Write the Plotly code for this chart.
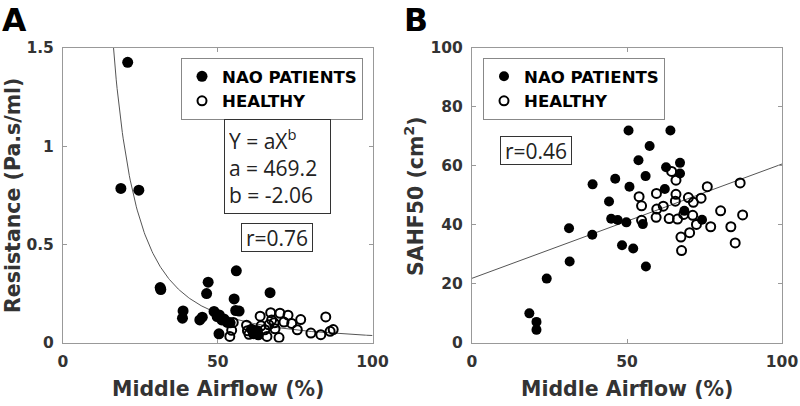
import numpy as np
import plotly.graph_objects as go

# ---------------- data ----------------
# Panel A: Resistance (Pa.s/ml) vs Middle Airflow (%)
nao_a_x = [18.7, 20.9, 24.5, 31.4, 31.6, 38.8, 38.6, 44.2, 45.0, 46.9, 46.4, 48.8, 49.8,
           51.3, 53.1, 54.0, 55.3, 56.0, 55.8, 56.9, 50.4, 66.9, 60.9, 62.0, 63.1, 52.0,
           61.5, 62.8, 50.5]
nao_a_y = [0.785, 1.427, 0.776, 0.280, 0.270, 0.161, 0.124, 0.115, 0.129, 0.307, 0.249,
           0.158, 0.132, 0.115, 0.102, 0.100, 0.222, 0.365, 0.163, 0.160, 0.044, 0.254,
           0.068, 0.056, 0.039, 0.120, 0.045, 0.060, 0.140]
hea_a_x = [53.9, 54.5, 55.0, 59.3, 59.6, 60.1, 63.7, 65.2, 65.9, 67.1, 67.4, 68.2, 69.8,
           70.1, 71.4, 72.7, 73.9, 75.7, 76.8, 80.1, 83.3, 84.9, 86.3, 87.3, 64.0, 66.5,
           61.8, 68.5]
hea_a_y = [0.031, 0.062, 0.102, 0.088, 0.060, 0.042, 0.134, 0.065, 0.031, 0.152, 0.115,
           0.100, 0.025, 0.149, 0.104, 0.139, 0.097, 0.065, 0.117, 0.048, 0.040, 0.130,
           0.057, 0.066, 0.085, 0.090, 0.050, 0.070]
fit_a = 469.2
fit_b = -2.06

# Panel B: SAHF50 (cm^2) vs Middle Airflow (%)
nao_b_x = [18.5, 20.8, 20.8, 24.1, 31.3, 31.5, 38.9, 38.8, 44.2, 44.9, 46.2, 47.0, 48.4,
           49.8, 50.5, 50.8, 52.0, 53.7, 55.1, 56.0, 56.1, 57.3, 62.2, 62.6, 64.0, 67.1,
           67.1, 68.5, 74.2]
nao_b_y = [9.9, 7.0, 4.3, 21.7, 38.8, 27.5, 53.7, 36.6, 47.9, 42.0, 55.6, 41.6, 33.0,
           40.8, 72.0, 52.9, 31.9, 61.9, 40.2, 56.5, 25.8, 66.7, 52.1, 59.5, 72.0, 61.0,
           57.4, 44.7, 41.7]
hea_b_x = [53.9, 54.7, 54.7, 59.5, 59.6, 59.4, 61.7, 63.6, 64.4, 65.8, 65.8, 65.6, 66.3,
           67.4, 67.6, 68.3, 69.8, 70.2, 71.2, 71.4, 72.4, 73.9, 75.9, 77.0, 80.2, 83.5,
           84.9, 86.5, 87.3]
hea_b_y = [49.5, 46.4, 41.5, 50.6, 45.3, 42.5, 46.3, 42.1, 58.1, 55.1, 50.3, 48.0, 41.9,
           35.8, 31.2, 43.5, 49.2, 37.3, 43.2, 47.6, 40.1, 49.0, 52.9, 39.3, 44.7, 39.3,
           33.8, 54.2, 43.3]
lin_intercept = 21.8
lin_slope = 0.388

x_ticks = [0, 50, 100]
ya_ticks = [0, 0.5, 1, 1.5]
ya_ticktext = ["0", "0.5", "1", "1.5"]
yb_ticks = [0, 20, 40, 60, 80, 100]

# ---------------- figure ----------------
W, H = 800, 406
def px(x):
    return x / W
def py(y):
    return 1 - y / H

BOLD = "DejaVu Sans, Liberation Sans, Arial, sans-serif"
ANN = "Open Sans, sans-serif"
TXT = "#333333"
FRAME = "#999999"

fig = go.Figure()

xa_fit = np.linspace(15.5, 100, 300)
ya_fit = fit_a * xa_fit ** fit_b
fig.add_trace(go.Scatter(x=xa_fit, y=ya_fit, mode="lines", line=dict(color="#555555", width=1),
                         showlegend=False, hoverinfo="skip", xaxis="x", yaxis="y"))
fig.add_trace(go.Scatter(x=hea_a_x, y=hea_a_y, mode="markers", name="HEALTHY",
                         marker=dict(symbol="circle-open", size=9, color="black", line=dict(width=2)),
                         xaxis="x", yaxis="y", legend="legend", legendrank=2))
fig.add_trace(go.Scatter(x=nao_a_x, y=nao_a_y, mode="markers", name="NAO PATIENTS",
                         marker=dict(symbol="circle", size=11, color="black"),
                         xaxis="x", yaxis="y", legend="legend", legendrank=1))

xb_fit = np.array([0, 100])
yb_fit = lin_intercept + lin_slope * xb_fit
fig.add_trace(go.Scatter(x=xb_fit, y=yb_fit, mode="lines", line=dict(color="#555555", width=1),
                         showlegend=False, hoverinfo="skip", xaxis="x2", yaxis="y2"))
fig.add_trace(go.Scatter(x=hea_b_x, y=hea_b_y, mode="markers", name="HEALTHY",
                         marker=dict(symbol="circle-open", size=9, color="black", line=dict(width=2)),
                         xaxis="x2", yaxis="y2", legend="legend2", legendrank=2))
fig.add_trace(go.Scatter(x=nao_b_x, y=nao_b_y, mode="markers", name="NAO PATIENTS",
                         marker=dict(symbol="circle", size=10, color="black"),
                         xaxis="x2", yaxis="y2", legend="legend2", legendrank=1))

axis_common = dict(showline=True, linecolor=FRAME, linewidth=1, mirror="ticks", ticks="inside",
                   ticklen=4, tickcolor=FRAME, showgrid=False, zeroline=False, automargin=False,
                   ticklabelstandoff=5,
                   tickfont=dict(family=BOLD, size=15.5, color=TXT, weight="bold"))

ydom = [py(342.5), py(48)]
legend_font = dict(family=BOLD, size=16.6, color="black", weight="bold")
fig.update_layout(
    width=W, height=H, margin=dict(l=0, r=0, t=0, b=0, autoexpand=False),
    paper_bgcolor="white", plot_bgcolor="white",
    xaxis=dict(domain=[px(63), px(372.5)], range=[0, 100], tickvals=x_ticks, anchor="y", **axis_common),
    yaxis=dict(domain=ydom, range=[0, 1.5], tickvals=ya_ticks, ticktext=ya_ticktext, anchor="x", **axis_common),
    xaxis2=dict(domain=[px(472), px(782)], range=[0, 100], tickvals=x_ticks, anchor="y2", **axis_common),
    yaxis2=dict(domain=ydom, range=[0, 100], tickvals=yb_ticks, anchor="x2", **axis_common),
    legend=dict(x=px(181), y=py(58), xanchor="left", yanchor="top", bgcolor="white",
                bordercolor="#888888", borderwidth=1, font=legend_font,
                tracegroupgap=0, traceorder="normal"),
    legend2=dict(x=px(483), y=py(58), xanchor="left", yanchor="top", bgcolor="white",
                 bordercolor="#888888", borderwidth=1, font=legend_font,
                 tracegroupgap=0, traceorder="normal"),
    showlegend=True,
)

ann = []
# panel letters
ann.append(dict(text="A", x=px(0), y=py(0), xref="paper", yref="paper", xanchor="left", yanchor="top",
                showarrow=False, font=dict(family=BOLD, size=31.5, color="black", weight="bold")))
ann.append(dict(text="B", x=px(402), y=py(0), xref="paper", yref="paper", xanchor="left", yanchor="top",
                showarrow=False, font=dict(family=BOLD, size=31.5, color="black", weight="bold")))
# axis titles
title_font = dict(family=BOLD, size=20.5, color=TXT, weight="bold")
ann.append(dict(text="Middle Airflow (%)", x=px(218), y=py(389), xref="paper", yref="paper",
                xanchor="center", yanchor="middle", showarrow=False, font=title_font))
ann.append(dict(text="Middle Airflow (%)", x=px(627), y=py(389), xref="paper", yref="paper",
                xanchor="center", yanchor="middle", showarrow=False, font=title_font))
ann.append(dict(text="Resistance (Pa.s/ml)", x=px(13), y=py(196), xref="paper", yref="paper",
                xanchor="center", yanchor="middle", textangle=-90, showarrow=False, font=title_font))
ann.append(dict(text="SAHF50 (cm<sup>2</sup>)", x=px(414), y=py(196), xref="paper", yref="paper",
                xanchor="center", yanchor="middle", textangle=-90, showarrow=False, font=title_font))
# boxes
box_font = dict(family=ANN, size=21, color="#222222")
ann.append(dict(text="Y = aX<sup>b</sup><br>a = %.1f<br>b = %.2f" % (fit_a, fit_b),
                x=px(223.5), y=py(118.5), xref="paper", yref="paper", xanchor="left", yanchor="top",
                align="left", showarrow=False, font=box_font, bordercolor="#333333", borderwidth=1,
                borderpad=4, bgcolor="white", width=97, height=85))
ann.append(dict(text="r=0.76", x=px(241), y=py(223), xref="paper", yref="paper", xanchor="left",
                yanchor="top", showarrow=False, font=box_font, bordercolor="#333333", borderwidth=1,
                borderpad=1, bgcolor="white", width=68, height=25))
ann.append(dict(text="r=0.46", x=px(500), y=py(136), xref="paper", yref="paper", xanchor="left",
                yanchor="top", showarrow=False, font=box_font, bordercolor="#333333", borderwidth=1,
                borderpad=1, bgcolor="white", width=68, height=25))
fig.update_layout(annotations=ann)

# remove the browser's default 8px body margin so the figure sits at the window origin
fig.write_html("out.html", config=dict(displayModeBar=False),
               post_script="document.body.style.margin='0';document.body.style.overflow='hidden';")
